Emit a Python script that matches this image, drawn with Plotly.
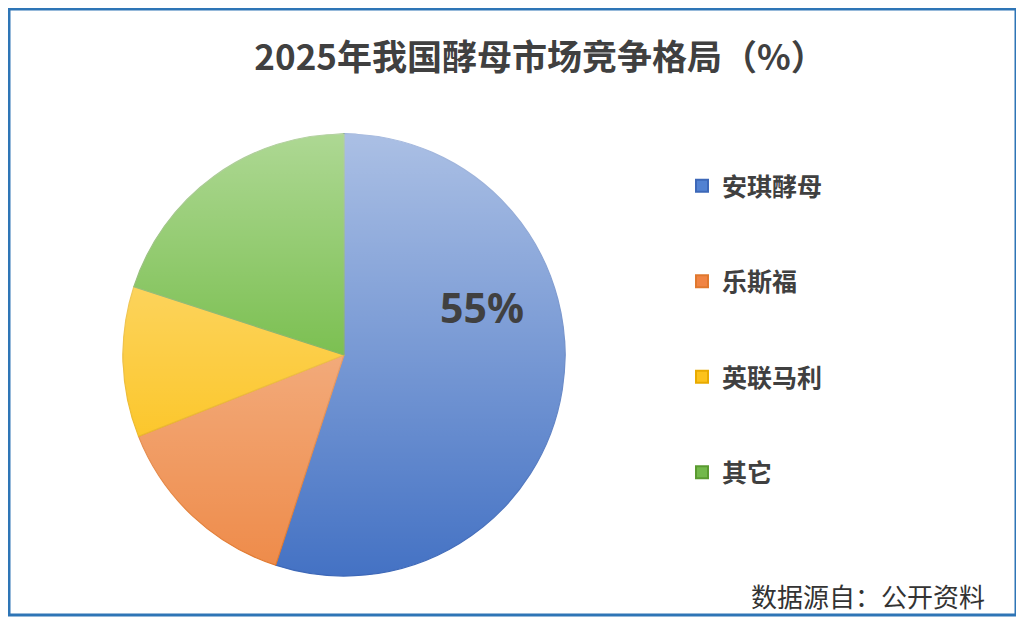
#######################################
# 2025年我国酵母市场竞争格局 - 饼图 #
#######################################

#Import the required packages.
import base64
import plotly.graph_objects as go


#Data
labels = ["安琪酵母", "乐斯福", "英联马利", "其它"]
values = [55, 14, 11, 20]  #%

#Colours (base fill, slice edge, legend square)
fill_colors = ["#4472c4", "#ee8a48", "#fbbb00", "#4aa810"]
edge_colors = ["#3d68b8", "#e0782e", "#e8aa00", "#5a9a30"]
legend_colors = ["#5282d2", "#f08444", "#fcc21c", "#72b84a"]

cjk = "Noto Sans CJK SC"
text_color = "#404040"


#The page has an 8px body margin, so the figure is sized to fit and
#positions below are given in window pixels and converted.
W, H, OFF = 1016, 614, 8
def px_x(x):
    return (x - OFF) / W
def px_y(y):
    return 1 - (y - OFF) / H


#Pie position on the page
pie_x = [px_x(123), px_x(565)]
pie_y = [px_y(576), px_y(134)]


fig = go.Figure()

fig.add_trace(go.Pie(
    labels=labels,
    values=values,
    sort=False,
    direction="clockwise",
    rotation=0,
    textinfo="none",
    hovertemplate="%{label}: %{value}%<extra></extra>",
    showlegend=False,
    domain=dict(x=pie_x, y=pie_y),
    marker=dict(colors=fill_colors, line=dict(color=edge_colors, width=1.2)),
))

#Legend entries (one group each so the gap between them can be set)
for name, col, edge in zip(labels, legend_colors, edge_colors):
    fig.add_trace(go.Scatter(
        x=[None], y=[None], mode="markers", name=name, legendgroup=name,
        marker=dict(symbol="square", size=12, color=col, line=dict(color=edge, width=1)),
    ))


#Light gradient over the pie (white at the top fading out at the bottom)
svg = ('<svg xmlns="http://www.w3.org/2000/svg" width="100" height="100" preserveAspectRatio="none">'
       '<defs><linearGradient id="g" x1="0" y1="0" x2="0" y2="1">'
       '<stop offset="0" stop-color="#ffffff" stop-opacity="0.55"/>'
       '<stop offset="1" stop-color="#ffffff" stop-opacity="0"/>'
       '</linearGradient></defs><rect width="100" height="100" fill="url(#g)"/></svg>')
src = "data:image/svg+xml;base64," + base64.b64encode(svg.encode()).decode()

fig.add_layout_image(dict(
    source=src, xref="paper", yref="paper",
    x=pie_x[0], y=pie_y[1], sizex=pie_x[1] - pie_x[0], sizey=pie_y[1] - pie_y[0],
    xanchor="left", yanchor="top", sizing="stretch", layer="above",
))


fig.update_layout(
    width=W, height=H,
    margin=dict(l=0, r=0, t=0, b=0),
    paper_bgcolor="white", plot_bgcolor="white",
    font=dict(family=cjk, color=text_color),
    title=dict(text="<b>2025年我国酵母市场竞争格局（%）</b>",
               x=px_x(540), xanchor="center", y=px_y(58), yanchor="middle",
               font=dict(family=cjk, size=35, color=text_color)),
    xaxis=dict(visible=False), yaxis=dict(visible=False),
    showlegend=True,
    legend=dict(x=px_x(682), xanchor="left", y=px_y(163), yanchor="top",
                traceorder="grouped", tracegroupgap=60, itemsizing="constant",
                font=dict(family=cjk, size=25, color=text_color, weight="bold"),
                bgcolor="rgba(0,0,0,0)"),
    hoverlabel=dict(font_family=cjk),
)

#Data label of the largest slice
fig.add_annotation(x=px_x(482), y=px_y(307), xref="paper", yref="paper",
                   text="<b>%d%%</b>" % values[0], showarrow=False,
                   font=dict(family="Noto Sans", size=41, color=text_color))

#Source note
fig.add_annotation(x=px_x(987), y=px_y(595), xref="paper", yref="paper",
                   xanchor="right", yanchor="middle",
                   text="数据源自：公开资料", showarrow=False,
                   font=dict(family=cjk, size=26, color="#333333"))

#Frame
fig.add_shape(type="rect", xref="paper", yref="paper",
              x0=px_x(9), x1=px_x(1016), y0=px_y(615), y1=px_y(9),
              line=dict(color="#2e75b6", width=3), layer="above")

fig.write_html("out.html")
